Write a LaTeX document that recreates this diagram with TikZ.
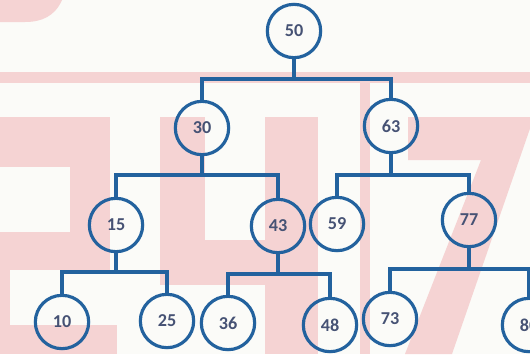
\documentclass[tikz,border=0pt]{standalone}
\usepackage{fontspec}
\setmainfont{Carlito}
\definecolor{treeblue}{HTML}{23629E}
\definecolor{numgrey}{HTML}{465274}
\definecolor{wmpink}{HTML}{F5D3D3}
\definecolor{paper}{HTML}{FBFBF8}
\begin{document}
\begin{tikzpicture}[x=0.03cm,y=-0.03cm,
    keynode/.style={circle,draw=treeblue,line width=2.7pt,minimum size=1.6cm,
        inner sep=0pt,text=numgrey,font=\fontsize{15.5}{15.5}\selectfont\bfseries},
    link/.style={draw=treeblue,line width=2.6pt},
    wm/.style={fill=wmpink}]
    \useasboundingbox (0,0) rectangle (530,354);
    \clip (0,0) rectangle (530,354);
    \fill[paper] (0,0) rectangle (530,354);
    % watermark behind the tree
    \fill[wm] (0,0) -- (62,0) .. controls (55,16) and (42,22) .. (25,22) -- (0,22) -- cycle;
    \fill[wm] (0,72) rectangle (530,83);
    \fill[wm] (0,117) rectangle (110,167);
    \fill[wm] (70,167) rectangle (110,232);
    \fill[wm] (0,232) rectangle (110,270);
    \fill[wm] (0,270) rectangle (10,325);
    \fill[wm] (0,325) rectangle (117,354);
    \fill[wm] (160,117) rectangle (205,285);
    \fill[wm] (160,240) rectangle (318,285);
    \fill[wm] (265,117) rectangle (318,354);
    \fill[wm] (360,83) rectangle (370,354);
    \fill[wm] (408,117) -- (534,117) -- (452,354) -- (405,354) -- (481,160) -- (408,160) -- cycle;
    \foreach \key/\px/\py in {50/294/31, 30/202/128, 63/391/126, 15/116/225, 43/278/226,
        59/337/224, 77/469/220, 10/62/322, 25/167/321, 36/228/323, 48/330/325,
        73/390/319, 80/529/325} {
        \node[keynode] (n\key) at (\px,\py) {\key};
    }
    \foreach \pa/\lc/\rc/\yb in {50/30/63/79, 30/15/43/175, 63/59/77/175,
        15/10/25/272, 43/36/48/274, 77/73/80/269} {
        \draw[link] (n\pa.south) -- (n\pa.south |- 0,\yb);
        \draw[link] (n\lc.north) |- (n\rc.north |- 0,\yb) -- (n\rc.north);
    }
\end{tikzpicture}
\end{document}
